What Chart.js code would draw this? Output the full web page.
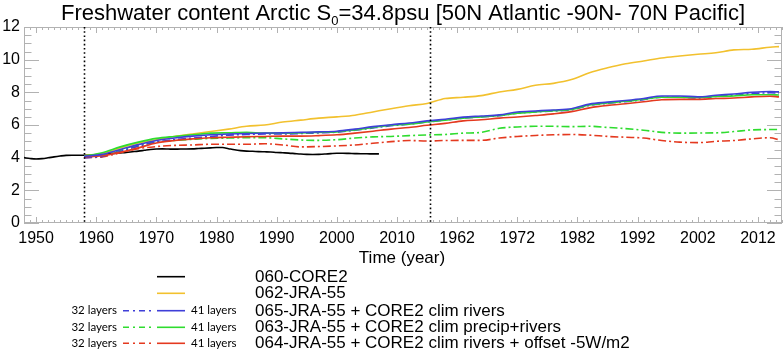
<!DOCTYPE html>
<html><head><meta charset="utf-8">
<script src="https://cdn.jsdelivr.net/npm/chart.js@4"></script>
<style>html,body{margin:0;padding:0;background:#fff;}#wrap{width:783px;height:361px;position:relative;}</style>
</head><body><div id="wrap"><canvas id="c" width="783" height="361"></canvas></div>
<script>
// ---- data ----
const coreYears = [1948,1949,1950,1951,1952,1953,1954,1955,1956,1957,1958,1959,1960,1961,1962,1963,1964,1965,1966,1967,1968,1969,1970,1971,1972,1973,1974,1975,1976,1977,1978,1979,1980,1981,1982,1983,1984,1985,1986,1987,1988,1989,1990,1991,1992,1993,1994,1995,1996,1997,1998,1999,2000,2001,2002,2003,2004,2005,2006,2007];
const core060 = [4.00,3.95,3.92,3.94,3.99,4.05,4.10,4.14,4.15,4.15,4.15,4.16,4.18,4.20,4.23,4.26,4.29,4.32,4.36,4.40,4.45,4.50,4.53,4.54,4.53,4.52,4.53,4.53,4.54,4.56,4.58,4.60,4.62,4.62,4.55,4.48,4.43,4.40,4.39,4.37,4.36,4.35,4.32,4.30,4.28,4.25,4.22,4.20,4.19,4.20,4.22,4.25,4.27,4.27,4.26,4.25,4.24,4.24,4.23,4.23];
// JRA-55 runs: two consecutive 1958-2015 cycles on one continuous time axis
const jraTime = [1958,1961,1964,1967,1970,1973,1976,1979,1982,1985,1988,1991,1994,1997,2000,2003,2006,2009,2012,2015,2018,2021,2024,2027,2030,2033,2036,2039,2042,2045,2048,2051,2054,2057,2060,2063,2066,2069,2072,2073.5];
const jra062 = [4.12,4.25,4.6,4.9,5.1,5.3,5.45,5.6,5.75,5.92,6.0,6.18,6.3,6.42,6.5,6.6,6.8,7.0,7.18,7.32,7.62,7.7,7.8,8.02,8.18,8.43,8.55,8.78,9.2,9.5,9.75,9.92,10.1,10.22,10.33,10.42,10.6,10.64,10.76,10.8];
const jra065_41 = [4.08,4.2,4.5,4.8,5.05,5.2,5.32,5.4,5.45,5.48,5.5,5.52,5.55,5.58,5.62,5.75,5.9,6.02,6.12,6.25,6.35,6.48,6.55,6.62,6.8,6.86,6.92,7.0,7.28,7.4,7.5,7.62,7.78,7.78,7.72,7.82,7.9,8.0,8.05,8.03];
const jra063_41 = [4.1,4.3,4.66,4.95,5.18,5.3,5.4,5.5,5.52,5.55,5.5,5.5,5.52,5.55,5.58,5.7,5.85,5.98,6.05,6.18,6.3,6.42,6.5,6.58,6.72,6.8,6.88,6.95,7.22,7.35,7.45,7.58,7.7,7.7,7.68,7.75,7.78,7.85,7.85,7.84];
const jra064_41 = [4.05,4.12,4.33,4.6,4.9,5.05,5.15,5.22,5.25,5.28,5.3,5.32,5.32,5.35,5.4,5.5,5.62,5.75,5.85,5.98,6.1,6.25,6.32,6.42,6.49,6.58,6.68,6.82,7.05,7.2,7.3,7.42,7.55,7.57,7.57,7.62,7.65,7.72,7.76,7.72];
const jra065_32 = [4.0,4.08,4.38,4.7,4.95,5.1,5.2,5.3,5.38,5.42,5.45,5.45,5.48,5.52,5.56,5.68,5.82,5.95,6.05,6.18,6.3,6.42,6.5,6.57,6.72,6.8,6.86,6.93,7.2,7.33,7.43,7.55,7.7,7.7,7.65,7.75,7.82,7.92,7.97,7.95];
const jra063_32 = [4.05,4.15,4.45,4.75,4.95,5.05,5.12,5.18,5.2,5.22,5.22,5.15,5.08,5.06,5.1,5.2,5.27,5.3,5.35,5.39,5.42,5.5,5.55,5.8,5.88,5.92,5.92,5.9,5.92,5.85,5.78,5.68,5.55,5.5,5.51,5.52,5.6,5.7,5.72,5.72];
const jra064_32 = [4.0,4.05,4.3,4.55,4.68,4.75,4.78,4.82,4.82,4.82,4.85,4.78,4.66,4.68,4.72,4.78,4.88,4.98,5.05,5.02,5.05,5.06,5.06,5.2,5.3,5.36,5.4,5.42,5.38,5.3,5.25,5.2,5.05,4.95,4.92,5.0,5.05,5.15,5.22,5.1];
const xTickValues = [1950,1960,1970,1980,1990,2000,2010,2020,2030,2040,2050,2060,2070];
const cycleOffset = 58;          // second cycle label = time - 58
const cycleBreak = 2015.5;
const markerTimes = [1958, 2015.5];
const yTickValues = [0,2,4,6,8,10,12];
const titleMain = "Freshwater content Arctic S";
const titleSub = "0";
const titleRest = "=34.8psu [50N Atlantic -90N- 70N Pacific]";
const xTitle = "Time (year)";
const legendRows = [
  {label:"060-CORE2", color:"#000000", pair:false},
  {label:"062-JRA-55", color:"#f2c12e", pair:false},
  {label:"065-JRA-55 + CORE2 clim rivers", color:"#3f3fd8", pair:true},
  {label:"063-JRA-55 + CORE2 clim precip+rivers", color:"#2fdc2f", pair:true},
  {label:"064-JRA-55 + CORE2 clim rivers + offset -5W/m2", color:"#e4391f", pair:true}
];
const layersLeft = "32 layers", layersRight = "41 layers";

// ---- build ----
const FONT = "'Liberation Sans', Arial, Helvetica, sans-serif";
const DASHDOT = [8,3,2,3];
function pts(xs, ys){ return xs.map((x,i)=>({x:x, y:ys[i]})); }
function ds(data, color, dashed){
  return {data:data, borderColor:color, borderWidth:1.6, borderDash: dashed?DASHDOT:[], pointRadius:0, fill:false, cubicInterpolationMode:'monotone'};
}
const C = {blk:"#000000", yel:"#f2c12e", blu:"#3f3fd8", grn:"#2fdc2f", red:"#e4391f"};
const datasets = [
  ds(pts(jraTime, jra065_41), C.blu, false),
  ds(pts(jraTime, jra064_41), C.red, false),
  ds(pts(jraTime, jra063_41), C.grn, false),
  ds(pts(jraTime, jra065_32), C.blu, true),
  ds(pts(jraTime, jra063_32), C.grn, true),
  ds(pts(jraTime, jra064_32), C.red, true),
  ds(pts(jraTime, jra062), C.yel, false),
  ds(pts(coreYears, core060), C.blk, false)
];

function line(ctx,x1,y1,x2,y2){ctx.beginPath();ctx.moveTo(x1,y1);ctx.lineTo(x2,y2);ctx.stroke();}

const framePlugin = {
  id:'frame',
  beforeDatasetsDraw(chart){
    const {ctx, chartArea:a, scales:{x,y}} = chart;
    ctx.save();
    ctx.strokeStyle = '#b2b2b2'; ctx.lineWidth = 1;
    ctx.strokeRect(a.left+0.5, a.top+0.5, a.right-a.left-1, a.bottom-a.top-1);
    for (let v=0; v<=12.001; v+=0.5){
      const py = Math.round(y.getPixelForValue(v))+0.5;
      const len = (Math.abs(v%2)<1e-6)?15:7.5;
      line(ctx, a.left, py, a.left+len, py);
      line(ctx, a.right, py, a.right-len, py);
    }
    for (let t=Math.ceil(x.min); t<=x.max; t++){
      const px = Math.round(x.getPixelForValue(t))+0.5;
      const len = xTickValues.includes(t)?6:3;
      line(ctx, px, a.bottom, px, a.bottom-len);
      line(ctx, px, a.top, px, a.top+len);
    }
    ctx.restore();
  },
  afterDatasetsDraw(chart){
    const {ctx, chartArea:a, scales:{x}} = chart;
    ctx.save();
    ctx.strokeStyle = '#000'; ctx.lineWidth = 1.6; ctx.setLineDash([1.6,2.6]);
    markerTimes.forEach(t=>{ const px = Math.round(x.getPixelForValue(t))+0.5; line(ctx, px, a.top, px, a.bottom); });
    ctx.restore();
  },
  afterDraw(chart){
    const {ctx, chartArea:a} = chart;
    ctx.save();
    ctx.fillStyle = '#000';
    // title with subscript
    const cx = (a.left+a.right)/2;
    let fs = 22;
    ctx.font = fs+"px "+FONT;
    const subFs = 13;
    const wMain = ctx.measureText(titleMain).width, wRest = ctx.measureText(titleRest).width;
    ctx.font = subFs+"px "+FONT;
    const wSub = ctx.measureText(titleSub).width;
    const total = wMain+wSub+wRest;
    let tx = cx - total/2; const ty = 20;
    ctx.textBaseline = 'alphabetic'; ctx.textAlign = 'left';
    ctx.font = fs+"px "+FONT; ctx.fillText(titleMain, tx, ty); tx += wMain;
    ctx.font = subFs+"px "+FONT; ctx.fillText(titleSub, tx, ty+5); tx += wSub;
    ctx.font = fs+"px "+FONT; ctx.fillText(titleRest, tx, ty);
    // x axis title
    ctx.font = "17px "+FONT; ctx.textAlign='center'; ctx.textBaseline='middle';
    ctx.fillText(xTitle, cx-1, 258);
    // legend
    const rowY = [276.7, 293.3, 310.7, 327.3, 343.3];
    legendRows.forEach((r,i)=>{
      const yy = rowY[i];
      ctx.strokeStyle = r.color; ctx.lineWidth = 1.6;
      ctx.setLineDash([]);
      line(ctx, 157, yy, 185, yy);
      if (r.pair){
        ctx.setLineDash([6,4,2,4]);
        line(ctx, 123, yy, 152, yy);
        ctx.setLineDash([]);
        ctx.font = "11.5px Lato, 'Open Sans', sans-serif";
        ctx.textAlign='right'; ctx.fillText(layersLeft, 117, yy-0.5);
        ctx.textAlign='left'; ctx.fillText(layersRight, 191, yy-0.5);
      }
      ctx.font = "17px "+FONT; ctx.textAlign='left';
      ctx.fillText(r.label, 255, yy+0.5);
    });
    ctx.restore();
  }
};

new Chart(document.getElementById('c').getContext('2d'), {
  type:'line',
  data:{datasets:datasets},
  options:{
    responsive:false, animation:false, devicePixelRatio:1,
    layout:{padding:{top:27,right:1,bottom:108,left:0}},
    plugins:{legend:{display:false}, tooltip:{enabled:false}, title:{display:false}},
    elements:{point:{radius:0}},
    scales:{
      x:{type:'linear', min:1948, max:2074,
        grid:{display:false, drawTicks:false}, border:{display:false},
        afterBuildTicks(s){ s.ticks = xTickValues.map(v=>({value:v})); },
        afterFit(s){ s.height = 30; },
        ticks:{color:'#000', font:{family:FONT, size:16}, padding:6, maxRotation:0, autoSkip:false,
          callback:(v)=> String(v > cycleBreak ? v - cycleOffset : v)}
      },
      y:{type:'linear', min:0, max:12,
        grid:{display:false, drawTicks:false}, border:{display:false},
        afterBuildTicks(s){ s.ticks = yTickValues.map(v=>({value:v})); },
        afterFit(s){ s.width = 24; },
        ticks:{color:'#000', font:{family:FONT, size:16}, padding:4}
      }
    }
  },
  plugins:[framePlugin]
});
</script></body></html>
